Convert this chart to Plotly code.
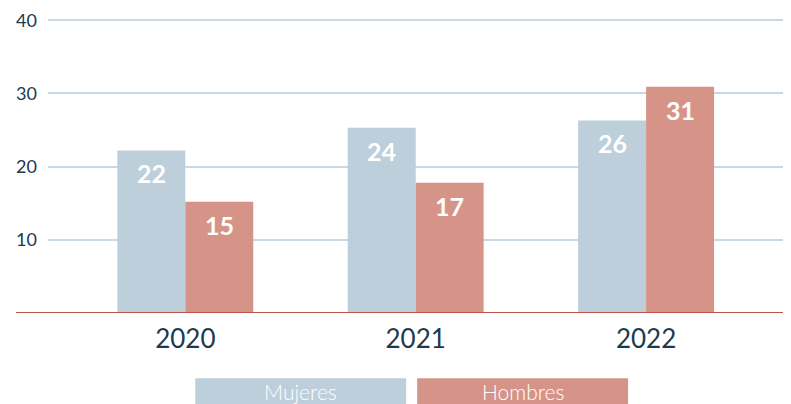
import plotly.graph_objects as go

years = ["2020", "2021", "2022"]
mujeres = [22.2, 25.3, 26.3]
hombres = [15.2, 17.8, 30.9]
mujeres_labels = ["22", "24", "26"]
hombres_labels = ["15", "17", "31"]
y_ticks = [10, 20, 30, 40]

C_M = "#bdcfdb"
C_H = "#d69488"
NAVY = "#1b3a52"
FONT = "Lato"

# page body has an 8px margin; figure is placed at (8, 8) in the window
OFF = 8
FIG_W, FIG_H = 791 - OFF, 404 - OFF
PLOT_L = 47.7 - OFF
ZERO_Y = 312.7 - OFF
TOP_Y = 20 - OFF - 2.2
B = FIG_H - ZERO_Y
W = FIG_W - PLOT_L
H = ZERO_Y - TOP_Y


def px2paper(x):
    return (x - OFF - PLOT_L) / W


def py2paper(y):
    return (ZERO_Y - (y - OFF)) / H


fig = go.Figure()
fig.add_trace(go.Bar(x=years, y=mujeres, name="Mujeres", marker_color=C_M,
                     marker_line_width=0, hoverinfo="skip"))
fig.add_trace(go.Bar(x=years, y=hombres, name="Hombres", marker_color=C_H,
                     marker_line_width=0, hoverinfo="skip"))

lab_font = dict(family=FONT, size=25, color="white", weight=700)
ann = []
for i, (v, t) in enumerate(zip(mujeres, mujeres_labels)):
    ann.append(dict(x=i, y=v, text=t, xref="x", yref="y", showarrow=False,
                    xshift=-34, yshift=-23, yanchor="middle", font=lab_font))
for i, (v, t) in enumerate(zip(hombres, hombres_labels)):
    ann.append(dict(x=i, y=v, text=t, xref="x", yref="y", showarrow=False,
                    xshift=34, yshift=-23, yanchor="middle", font=lab_font))

shapes = [
    dict(type="rect", xref="paper", yref="paper", x0=px2paper(195), x1=px2paper(406),
         y0=py2paper(412), y1=py2paper(378), fillcolor=C_M, line_width=0, layer="above"),
    dict(type="rect", xref="paper", yref="paper", x0=px2paper(417), x1=px2paper(628),
         y0=py2paper(412), y1=py2paper(378), fillcolor=C_H, line_width=0, layer="above"),
    dict(type="line", xref="paper", yref="y", x0=px2paper(15.7), x1=1, y0=0, y1=0,
         line=dict(color="#c0524a", width=2), layer="above"),
]
leg_font = dict(family=FONT, size=21, color="white", weight=300)
ann.append(dict(xref="paper", yref="paper", x=px2paper(300.5), y=py2paper(391),
                text="Mujeres", showarrow=False, yanchor="middle", font=leg_font))
ann.append(dict(xref="paper", yref="paper", x=px2paper(522.5), y=py2paper(391),
                text="Hombres", showarrow=False, yanchor="middle", font=leg_font))

fig.update_layout(
    width=FIG_W, height=FIG_H,
    margin=dict(l=PLOT_L, r=0, t=TOP_Y, b=B, pad=0),
    paper_bgcolor="white", plot_bgcolor="white",
    barmode="group", bargap=0.41, bargroupgap=0,
    showlegend=False,
    annotations=ann, shapes=shapes,
    font=dict(family=FONT, color=NAVY),
)
fig.update_xaxes(type="category", range=[-0.596, 2.629], showgrid=False,
                 showline=False, zeroline=False, ticks="",
                 tickfont=dict(family=FONT, size=26, color=NAVY),
                 ticklabelstandoff=8)
fig.update_yaxes(range=[0, 40.3], tickvals=y_ticks, showgrid=True,
                 gridcolor="#cad8e2", gridwidth=2, zeroline=False, showline=False,
                 ticks="", tickfont=dict(family=FONT, size=18, color=NAVY),
                 ticklabelstandoff=10)

fig.write_html("out.html")
